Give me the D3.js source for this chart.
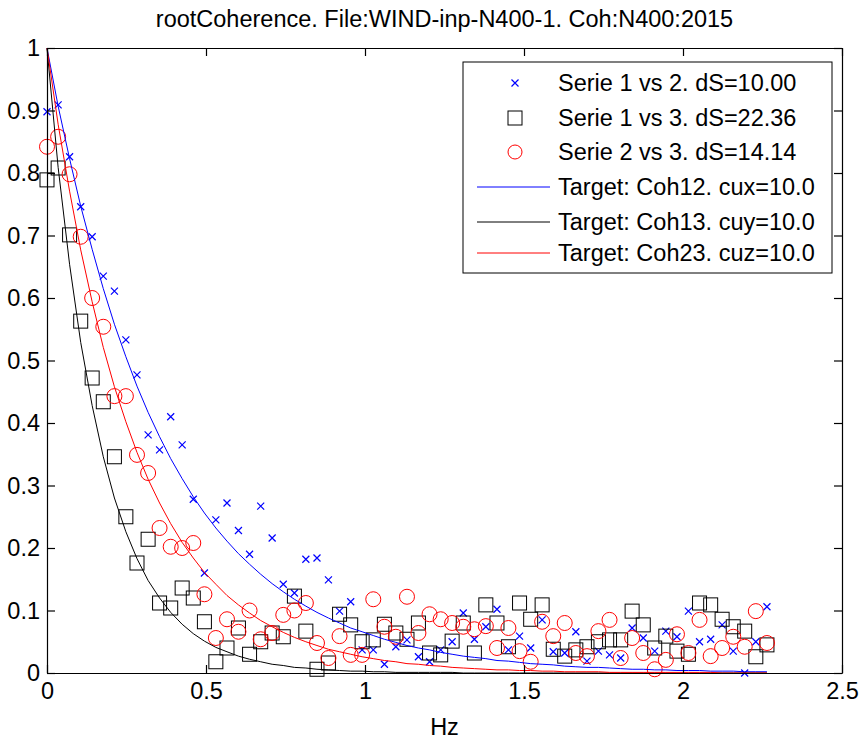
<!DOCTYPE html>
<html>
<head>
<meta charset="utf-8">
<script src="https://cdn.jsdelivr.net/npm/d3@7/dist/d3.min.js"></script>
<style>
  body { margin: 0; background: #fff; }
  svg { display: block; font-family: "Liberation Sans", Arial, sans-serif; }
</style>
</head>
<body>
<div id="chart-area"></div>
<script>
// frequencies (Hz)
const freq = [0, 0.035, 0.071, 0.106, 0.142, 0.177, 0.212, 0.248, 0.283, 0.318,
  0.354, 0.389, 0.425, 0.46, 0.495, 0.531, 0.566, 0.602, 0.637, 0.672,
  0.708, 0.743, 0.778, 0.814, 0.849, 0.885, 0.92, 0.955, 0.991, 1.026,
  1.061, 1.097, 1.132, 1.168, 1.203, 1.238, 1.274, 1.309, 1.344, 1.38,
  1.415, 1.451, 1.486, 1.521, 1.557, 1.592, 1.628, 1.663, 1.698, 1.734,
  1.769, 1.804, 1.84, 1.875, 1.911, 1.946, 1.981, 2.017, 2.052, 2.087,
  2.123, 2.158, 2.194, 2.229, 2.264];

// measured root coherence
const coh12 = [0.898, 0.909, 0.826, 0.746, 0.698, 0.635, 0.611, 0.533, 0.477, 0.381,
  0.357, 0.41, 0.365, 0.278, 0.16, 0.245, 0.272, 0.228, 0.19, 0.267,
  0.216, 0.142, 0.128, 0.182, 0.184, 0.149, 0.099, 0.114, 0.037, 0.037,
  0.014, 0.042, 0.053, 0.026, 0.018, 0.037, 0.05, 0.096, 0.054, 0.074,
  0.102, 0.037, 0.059, 0.04, 0.085, 0.034, 0.032, 0.066, 0.019, 0.035,
  0.029, 0.024, 0.072, 0.056, 0.035, 0.067, 0.058, 0.099, 0.05, 0.054,
  0.077, 0.035, 0.0, 0.05, 0.106];

const coh13 = [0.789, 0.808, 0.701, 0.563, 0.472, 0.434, 0.346, 0.25, 0.176, 0.214,
  0.112, 0.104, 0.136, 0.12, 0.082, 0.018, 0.04, 0.072, 0.03, 0.05,
  0.064, 0.058, 0.123, 0.067, 0.006, 0.016, 0.094, 0.077, 0.05, 0.053,
  0.078, 0.064, 0.054, 0.08, 0.032, 0.029, 0.051, 0.08, 0.032, 0.109,
  0.08, 0.042, 0.112, 0.086, 0.109, 0.038, 0.027, 0.037, 0.042, 0.05,
  0.053, 0.053, 0.099, 0.077, 0.04, 0.059, 0.035, 0.03, 0.112, 0.109,
  0.086, 0.074, 0.067, 0.026, 0.045];

const coh23 = [0.842, 0.858, 0.798, 0.698, 0.6, 0.554, 0.443, 0.443, 0.349, 0.32,
  0.232, 0.202, 0.2, 0.208, 0.126, 0.056, 0.086, 0.066, 0.1, 0.054,
  0.064, 0.093, 0.1, 0.112, 0.048, 0.024, 0.059, 0.029, 0.029, 0.118,
  0.074, 0.058, 0.122, 0.064, 0.094, 0.086, 0.08, 0.074, 0.07, 0.075,
  0.04, 0.072, 0.035, 0.018, 0.082, 0.059, 0.08, 0.032, 0.027, 0.067,
  0.085, 0.024, 0.056, 0.032, 0.006, 0.021, 0.062, 0.032, 0.085, 0.027,
  0.04, 0.058, 0.042, 0.099, 0.048];

// target coherence curves
const target12 = [1, 0.907, 0.823, 0.747, 0.678, 0.615, 0.558, 0.506, 0.459, 0.417,
  0.378, 0.343, 0.311, 0.282, 0.256, 0.232, 0.211, 0.191, 0.174, 0.158,
  0.143, 0.13, 0.118, 0.107, 0.097, 0.088, 0.08, 0.072, 0.066, 0.06,
  0.054, 0.049, 0.044, 0.04, 0.037, 0.033, 0.03, 0.027, 0.025, 0.023,
  0.02, 0.019, 0.017, 0.015, 0.014, 0.013, 0.011, 0.01, 0.009, 0.009,
  0.008, 0.007, 0.006, 0.006, 0.005, 0.005, 0.004, 0.004, 0.004, 0.003,
  0.003, 0.003, 0.002, 0.002, 0.002];

const target13 = [1, 0.809, 0.654, 0.529, 0.428, 0.346, 0.28, 0.226, 0.183, 0.148,
  0.12, 0.097, 0.078, 0.063, 0.051, 0.041, 0.034, 0.027, 0.022, 0.018,
  0.014, 0.012, 0.009, 0.008, 0.006, 0.005, 0.004, 0.003, 0.003, 0.002,
  0.002, 0.001, 0.001, 0.001, 0.001, 0.001, 0.001, 0, 0, 0,
  0, 0, 0, 0, 0, 0, 0, 0, 0, 0,
  0, 0, 0, 0, 0, 0, 0, 0, 0, 0,
  0, 0, 0, 0, 0];

const target23 = [1, 0.878, 0.771, 0.677, 0.594, 0.521, 0.458, 0.402, 0.353, 0.31,
  0.272, 0.239, 0.209, 0.184, 0.161, 0.142, 0.124, 0.109, 0.096, 0.084,
  0.074, 0.065, 0.057, 0.05, 0.044, 0.038, 0.034, 0.03, 0.026, 0.023,
  0.02, 0.018, 0.015, 0.014, 0.012, 0.011, 0.009, 0.008, 0.007, 0.006,
  0.005, 0.005, 0.004, 0.004, 0.003, 0.003, 0.002, 0.002, 0.002, 0.002,
  0.001, 0.001, 0.001, 0.001, 0.001, 0.001, 0.001, 0.001, 0.001, 0.001,
  0, 0, 0, 0, 0];

const xTicks = [0, 0.5, 1, 1.5, 2, 2.5];
const yTicks = [0, 0.1, 0.2, 0.3, 0.4, 0.5, 0.6, 0.7, 0.8, 0.9, 1];

const legendLabels = [
  'Serie 1 vs 2. dS=10.00',
  'Serie 1 vs 3. dS=22.36',
  'Serie 2 vs 3. dS=14.14',
  'Target: Coh12. cux=10.0',
  'Target: Coh13. cuy=10.0',
  'Target: Coh23. cuz=10.0'
];

// margins
const margin = { left: 47, right: 19, top: 48, bottom: 67 };
const width = 861 - margin.left - margin.right;
const height = 740 - margin.top - margin.bottom;
const fontSize = '23.5px';

const svg = d3.select('#chart-area')
  .append('svg')
    .attr('width', 861)
    .attr('height', 740);

const g = svg.append('g')
  .attr('transform', `translate(${margin.left}, ${margin.top})`);

const x = d3.scaleLinear().domain([0, 2.5]).range([0, width]);
const y = d3.scaleLinear().domain([0, 1]).range([height, 0]);

// title
svg.append('text')
  .attr('x', margin.left + width / 2)
  .attr('y', 27)
  .attr('text-anchor', 'middle')
  .attr('font-size', fontSize)
  .text('rootCoherence. File:WIND-inp-N400-1. Coh:N400:2015');

// x label
svg.append('text')
  .attr('x', margin.left + width / 2)
  .attr('y', 735)
  .attr('text-anchor', 'middle')
  .attr('font-size', fontSize)
  .text('Hz');

const plot = g.append('g');

// markers: blue x
plot.selectAll('path.cross')
  .data(freq)
  .enter()
    .append('path')
      .attr('class', 'cross')
      .attr('d', (f, i) => {
        const cx = x(f), cy = y(coh12[i]), s = 3.5;
        return `M${cx - s},${cy - s}L${cx + s},${cy + s}M${cx - s},${cy + s}L${cx + s},${cy - s}`;
      })
      .attr('stroke', '#0000ff')
      .attr('stroke-width', 1.2)
      .attr('fill', 'none');

// black squares
plot.selectAll('rect.sq')
  .data(freq)
  .enter()
    .append('rect')
      .attr('class', 'sq')
      .attr('x', f => x(f) - 7)
      .attr('y', (f, i) => y(coh13[i]) - 7)
      .attr('width', 14)
      .attr('height', 14)
      .attr('fill', 'none')
      .attr('stroke', '#000')
      .attr('stroke-width', 1);

// red circles
plot.selectAll('circle.ci')
  .data(freq)
  .enter()
    .append('circle')
      .attr('class', 'ci')
      .attr('cx', f => x(f))
      .attr('cy', (f, i) => y(coh23[i]))
      .attr('r', 7.5)
      .attr('fill', 'none')
      .attr('stroke', '#ff0000')
      .attr('stroke-width', 1);

// target lines
const line = d3.line()
  .x(d => x(d[0]))
  .y(d => y(d[1]));

[[target12, '#0000ff'], [target13, '#000'], [target23, '#ff0000']].forEach(([vals, col]) => {
  plot.append('path')
    .datum(freq.map((f, i) => [f, vals[i]]))
    .attr('d', line)
    .attr('fill', 'none')
    .attr('stroke', col)
    .attr('stroke-width', 1);
});

// axes with inner ticks
const xAxisCall = d3.axisBottom(x)
  .tickValues(xTicks)
  .tickSizeInner(-8)
  .tickSizeOuter(0)
  .tickPadding(9)
  .tickFormat(d3.format('~g'));
g.append('g')
  .attr('class', 'x axis')
  .attr('transform', `translate(0, ${height})`)
  .call(xAxisCall);

const yAxisCall = d3.axisLeft(y)
  .tickValues(yTicks)
  .tickSizeInner(-8)
  .tickSizeOuter(0)
  .tickPadding(7)
  .tickFormat(d3.format('~g'));
g.append('g')
  .attr('class', 'y axis')
  .call(yAxisCall);

g.append('g')
  .attr('class', 'x axis top')
  .call(d3.axisTop(x).tickValues(xTicks).tickSizeInner(-8).tickSizeOuter(0).tickFormat(''));

g.append('g')
  .attr('class', 'y axis right')
  .attr('transform', `translate(${width}, 0)`)
  .call(d3.axisRight(y).tickValues(yTicks).tickSizeInner(-8).tickSizeOuter(0).tickFormat(''));

g.selectAll('.axis text')
  .attr('font-size', fontSize)
  .attr('font-family', '"Liberation Sans", Arial, sans-serif')
  .attr('fill', '#000');
g.selectAll('.axis path, .axis line')
  .attr('stroke', '#000')
  .attr('stroke-width', 1.2);

// legend
const legend = g.append('g')
  .attr('transform', `translate(${463 - margin.left}, ${62 - margin.top})`);

legend.append('rect')
  .attr('width', 369)
  .attr('height', 211)
  .attr('fill', '#fff')
  .attr('stroke', '#000')
  .attr('stroke-width', 1);

const rowY = [21, 56, 90, 125, 160, 191];
const mx = 52;

legend.append('path')
  .attr('d', `M${mx - 3.5},${rowY[0] - 3.5}L${mx + 3.5},${rowY[0] + 3.5}M${mx - 3.5},${rowY[0] + 3.5}L${mx + 3.5},${rowY[0] - 3.5}`)
  .attr('stroke', '#0000ff').attr('stroke-width', 1.2);
legend.append('rect')
  .attr('x', mx - 7).attr('y', rowY[1] - 7).attr('width', 14).attr('height', 14)
  .attr('fill', 'none').attr('stroke', '#000');
legend.append('circle')
  .attr('cx', mx).attr('cy', rowY[2]).attr('r', 7)
  .attr('fill', 'none').attr('stroke', '#ff0000');

['#0000ff', '#000', '#ff0000'].forEach((col, i) => {
  legend.append('line')
    .attr('x1', 14).attr('x2', 87)
    .attr('y1', rowY[3 + i]).attr('y2', rowY[3 + i])
    .attr('stroke', col).attr('stroke-width', 1);
});

legend.selectAll('text.lbl')
  .data(legendLabels)
  .enter()
    .append('text')
      .attr('class', 'lbl')
      .attr('x', 95)
      .attr('y', (d, i) => rowY[i])
      .attr('dy', '0.36em')
      .attr('font-size', fontSize)
      .text(d => d);
</script>
</body>
</html>
